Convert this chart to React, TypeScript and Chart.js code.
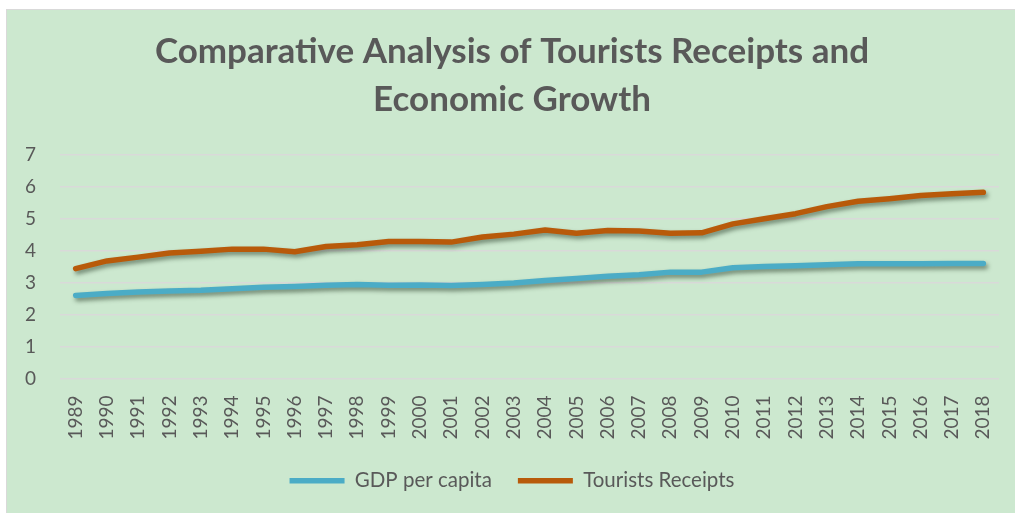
import React, { useEffect, useRef } from "react";
import { Chart, registerables } from "chart.js";

Chart.register(...registerables);

const years = [
  "1989", "1990", "1991", "1992", "1993", "1994", "1995", "1996", "1997", "1998",
  "1999", "2000", "2001", "2002", "2003", "2004", "2005", "2006", "2007", "2008",
  "2009", "2010", "2011", "2012", "2013", "2014", "2015", "2016", "2017", "2018",
];

const gdpPerCapita = [
  2.6, 2.66, 2.71, 2.74, 2.76, 2.81, 2.86, 2.88, 2.92, 2.94,
  2.92, 2.93, 2.91, 2.94, 2.99, 3.07, 3.13, 3.2, 3.25, 3.33,
  3.33, 3.47, 3.51, 3.53, 3.56, 3.59, 3.59, 3.59, 3.6, 3.6,
];

const touristsReceipts = [
  3.44, 3.68, 3.8, 3.93, 3.98, 4.05, 4.05, 3.97, 4.13, 4.19,
  4.29, 4.29, 4.27, 4.43, 4.52, 4.65, 4.55, 4.63, 4.62, 4.55,
  4.56, 4.84, 5.0, 5.16, 5.38, 5.55, 5.63, 5.73, 5.78, 5.83,
];

const yTicks = [0, 1, 2, 3, 4, 5, 6, 7];

const titleLines = ["Comparative Analysis of Tourists Receipts and", "Economic Growth"];

const shadowPlugin = {
  id: "lineShadow",
  beforeDatasetsDraw(chart: any) {
    const ctx = chart.ctx;
    ctx.save();
    ctx.shadowColor = "rgba(40,60,40,0.55)";
    ctx.shadowBlur = 4;
    ctx.shadowOffsetX = 2;
    ctx.shadowOffsetY = 3;
  },
  afterDatasetsDraw(chart: any) {
    chart.ctx.restore();
  },
};

export default function App() {
  const ref = useRef<HTMLCanvasElement | null>(null);

  useEffect(() => {
    if (!ref.current) return;
    const textColor = "#595959";
    const chart = new Chart(ref.current, {
      type: "line",
      data: {
        labels: years,
        datasets: [
          {
            label: "GDP per capita",
            data: gdpPerCapita,
            borderColor: "#4BACC6",
            backgroundColor: "#4BACC6",
            borderWidth: 5.5,
            borderCapStyle: "round",
            borderJoinStyle: "round",
            pointRadius: 0,
            tension: 0,
          },
          {
            label: "Tourists Receipts",
            data: touristsReceipts,
            borderColor: "#B85A0A",
            backgroundColor: "#B85A0A",
            borderWidth: 5.5,
            borderCapStyle: "round",
            borderJoinStyle: "round",
            pointRadius: 0,
            tension: 0,
          },
        ],
      },
      options: {
        responsive: false,
        animation: false,
        devicePixelRatio: 1,
        layout: { padding: { left: 18, right: 17, top: 0, bottom: 13 } },
        plugins: {
          title: {
            display: true,
            text: titleLines,
            color: textColor,
            font: { family: "Lato", size: 35, weight: "bold", lineHeight: 1.37 },
            padding: { top: 18, bottom: 31 },
          },
          legend: {
            position: "bottom",
            labels: {
              color: textColor,
              font: { family: "Lato", size: 20.5 },
              usePointStyle: true,
              pointStyle: "line",
              pointStyleWidth: 55,
              boxHeight: 6,
              padding: 26,
            },
          },
          tooltip: { enabled: false },
        },
        scales: {
          x: {
            offset: true,
            grid: { display: false, drawTicks: false },
            border: { display: false },
            afterFit: (axis: any) => {
              axis.paddingLeft = 0;
              axis.paddingRight = 0;
              axis.height = 66;
            },
            ticks: {
              color: textColor,
              font: { family: "Lato", size: 19 },
              minRotation: 90,
              maxRotation: 90,
              padding: 17,
              autoSkip: false,
            },
          },
          y: {
            min: 0,
            max: 7,
            afterBuildTicks: (axis: any) => {
              axis.ticks = yTicks.map((v) => ({ value: v }));
            },
            afterFit: (axis: any) => {
              axis.width = 35;
            },
            grid: { color: "#d9d9d9", lineWidth: 1.5, drawTicks: false },
            border: { display: false },
            ticks: {
              color: textColor,
              font: { family: "Lato", size: 19 },
              padding: 24,
            },
          },
        },
      },
      plugins: [shadowPlugin],
    });
    return () => chart.destroy();
  }, []);

  return (
    <div
      style={{
        position: "absolute",
        left: 6,
        top: 9,
        width: 1009,
        height: 504,
        border: "1px solid #d9d9d9",
        background: "#CCE8CF",
      }}
    >
      <canvas ref={ref} width={1009} height={504} style={{ display: "block" }} />
    </div>
  );
}
